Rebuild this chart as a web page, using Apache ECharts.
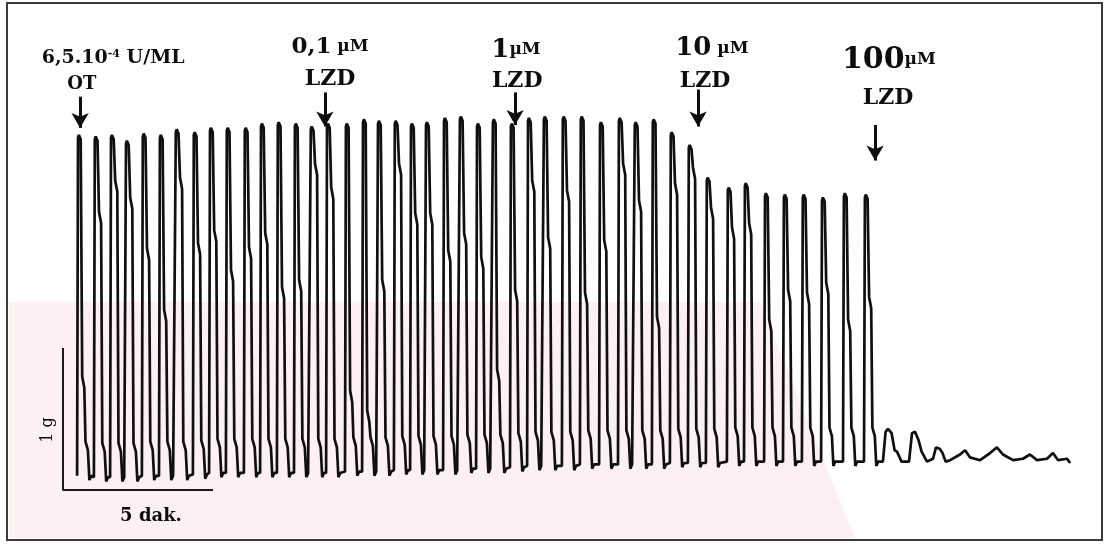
<!DOCTYPE html>
<html><head><meta charset="utf-8">
<script src="https://cdn.jsdelivr.net/npm/echarts@6/dist/echarts.min.js"></script>
<style>html,body{margin:0;padding:0;background:#fff}#c{width:1106px;height:546px}</style>
</head><body><div id="c"></div>
<script>
// time of each contraction peak (minutes)
const peakTimes = [0.57,1.13,1.67,2.17,2.73,3.30,3.83,4.43,4.97,5.53,6.13,6.67,7.23,7.80,
  8.33,8.87,9.50,10.07,10.57,11.13,11.67,12.17,12.77,13.30,13.87,14.40,
  15.00,15.57,16.10,16.73,17.33,17.97,18.60,19.13,19.73,20.33,20.93,
  21.53,22.23,22.80,23.47,24.10,24.73,25.37,26.10,26.80];
// peak tension (g)
const peakForce = [2.50,2.49,2.50,2.46,2.51,2.50,2.54,2.52,2.55,2.55,2.55,2.58,2.59,2.58,
  2.56,2.58,2.58,2.61,2.60,2.60,2.58,2.59,2.62,2.63,2.58,2.61,
  2.58,2.62,2.63,2.63,2.63,2.59,2.62,2.59,2.61,2.52,2.43,
  2.20,2.13,2.16,2.09,2.08,2.08,2.06,2.09,2.08];
// relaxation shoulder level (g)
const shoulderForce = [0.80,1.96,2.18,2.06,1.70,1.27,2.20,1.74,1.83,1.55,1.71,1.81,1.43,1.48,
  2.30,2.13,0.70,0.56,1.48,2.30,1.95,1.95,1.69,1.81,1.64,0.85,
  1.41,2.18,1.78,2.11,1.39,1.76,2.30,2.04,1.22,2.16,2.27,
  1.99,1.85,1.88,1.20,1.41,1.39,1.46,1.20,1.36];
// resting tension between contractions (g)
const troughForce = [0.10,0.09,0.09,0.09,0.10,0.10,0.10,0.11,0.12,0.12,0.12,0.12,0.12,0.12,
  0.12,0.12,0.13,0.13,0.13,0.14,0.14,0.14,0.14,0.15,0.15,0.15,
  0.16,0.17,0.17,0.17,0.18,0.18,0.18,0.18,0.18,0.19,0.19,
  0.19,0.20,0.20,0.20,0.20,0.20,0.20,0.20,0.20];
// residual activity after 100 µM LZD
const tailTimes = [27.33,27.42,27.50,27.62,27.72,27.80,27.95,28.20,28.30,28.40,28.52,28.62,28.80,29.00,29.10,29.22,29.32,29.42,
  29.57,29.90,30.07,30.23,30.57,30.90,31.13,31.33,31.67,32.00,32.23,32.47,32.80,33.00,33.17,33.47,33.57];
const tailForce = [0.20,0.41,0.43,0.40,0.28,0.27,0.20,0.20,0.40,0.41,0.35,0.27,0.20,0.22,0.30,0.29,0.26,0.20,
  0.21,0.25,0.28,0.23,0.21,0.26,0.30,0.25,0.21,0.22,0.25,0.21,0.22,0.26,0.21,0.22,0.19];
// scale bar: 1 g vertical, 5 min horizontal
const scaleBarX = [0,0,5];
const scaleBarY = [1,0,0];
// drug additions
const eventTimes = [0.57,8.73,15.07,21.17,27.07];
const eventLine1 = ['{s|6,5.10}{sup|-4}{s| U/ML}','{a|0,1}{u| µM}','{b|1}{u|µM}','{b|10}{u| µM}','{c|100}{u|µM}'];
const eventLine2 = ['OT','LZD','LZD','LZD','LZD'];

// ---- layout (not data) ----
const arrowLevels = [[2.77,2.55],[2.80,2.56],[2.80,2.57],[2.82,2.56],[2.57,2.32]];
const labelPlace = [[1.10,3.04,0.06,2.86],[0.17,3.12,0.17,2.89],[0.03,3.10,0.07,2.88],[0.46,3.11,0.23,2.88],[0.46,3.03,0.43,2.76]];
const line2Size = [18,22,22,22,22];

const trace = [];
for (let i = 0; i < peakTimes.length; i++) {
  const t = peakTimes[i], p = peakForce[i], s = shoulderForce[i], b = troughForce[i];
  trace.push([t-0.10,b],[t-0.07,p-0.02],[t-0.04,p],[t+0.02,p-0.03],[t+0.07,s],[t+0.14,s-0.08],
             [t+0.18,b+0.24],[t+0.26,b+0.18],[t+0.31,b-0.03],[t+0.37,b]);
}
tailTimes.forEach((t,i)=>trace.push([t,tailForce[i]]));

const FONT = 'DejaVu Serif';
const INK = '#0e0e0e';
const rich = {
  s:{fontFamily:FONT,fontWeight:'bold',fontSize:19,color:INK},
  sup:{fontFamily:FONT,fontWeight:'bold',fontSize:11,color:INK,verticalAlign:'top',padding:[0,0,8,0]},
  a:{fontFamily:FONT,fontWeight:'bold',fontSize:23,color:INK},
  b:{fontFamily:FONT,fontWeight:'bold',fontSize:26,color:INK},
  c:{fontFamily:FONT,fontWeight:'bold',fontSize:30,color:INK},
  u:{fontFamily:FONT,fontWeight:'bold',fontSize:17,color:INK}
};

const labelData = [];
eventTimes.forEach((t,i)=>{
  const L = labelPlace[i];
  labelData.push({value:[t+L[0],L[1]],label:{formatter:eventLine1[i],rich:rich}});
  labelData.push({value:[t+L[2],L[3]],label:{formatter:eventLine2[i],fontFamily:FONT,fontWeight:'bold',fontSize:line2Size[i],color:INK}});
});

const arrowData = eventTimes.map((t,i)=>[
  {coord:[t,arrowLevels[i][0]],symbol:'none'},
  {coord:[t,arrowLevels[i][1]],symbol:'arrow',symbolSize:[13,15]}
]);

const chart = echarts.init(document.getElementById('c'),null,{renderer:'canvas'});
chart.setOption({
  animation:false,
  backgroundColor:'#fff',
  grid:{left:63,right:23,top:7.2,bottom:56,containLabel:false},
  xAxis:{type:'value',min:0,max:34,show:false},
  yAxis:{type:'value',min:0,max:3.4,show:false},
  graphic:[
    {type:'polygon',shape:{points:[[9,302],[760,302],[855,538],[9,538]]},style:{fill:'#fdf0f2'},z:-2,silent:true},
    {type:'rect',shape:{x:7,y:3,width:1095,height:537},style:{fill:'none',stroke:'#3a3a3a',lineWidth:2},z:-1},
    {type:'text',x:48,y:430,rotation:Math.PI/2,style:{text:'1 g',font:'16px "DejaVu Serif"',fill:INK,align:'center',verticalAlign:'middle'}},
    {type:'text',x:151,y:516,style:{text:'5 dak.',font:'bold 18px "DejaVu Serif"',fill:INK,align:'center',verticalAlign:'middle'}}
  ],
  series:[
    {type:'line',data:trace,symbol:'none',lineStyle:{color:'#101010',width:2.7},clip:false,
     markLine:{silent:true,animation:false,symbol:['none','arrow'],label:{show:false},
       lineStyle:{color:INK,width:3,type:'solid'},data:arrowData}},
    {type:'line',data:scaleBarX.map((x,i)=>[x,scaleBarY[i]]),symbol:'none',lineStyle:{color:'#1a1a1a',width:2}},
    {type:'scatter',data:labelData,symbolSize:0,clip:false,itemStyle:{opacity:1},
     label:{show:true,position:'inside',color:INK}}
  ]
});
</script></body></html>
